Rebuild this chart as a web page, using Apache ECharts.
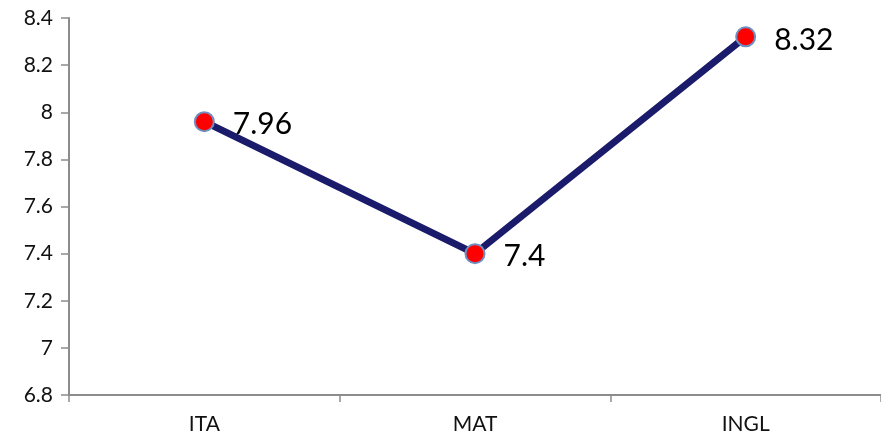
<!DOCTYPE html>
<html><head><meta charset="utf-8">
<script src="https://cdn.jsdelivr.net/npm/echarts@6/dist/echarts.min.js"></script>
<style>html,body{margin:0;padding:0;background:#fff}#c{width:881px;height:444px}</style>
</head><body><div id="c"></div>
<script>
var categories = ['ITA', 'MAT', 'INGL'];
var values = [7.96, 7.4, 8.32];
var yMin = 6.8, yMax = 8.4, yStep = 0.2;

var chart = echarts.init(document.getElementById('c'), null, {renderer: 'canvas'});
chart.setOption({
  animation: false,
  backgroundColor: '#fff',
  grid: {left: 69, right: -5, top: 18, bottom: 49, containLabel: false},
  xAxis: {
    type: 'category', data: categories, boundaryGap: true,
    axisLine: {lineStyle: {color: '#8c8c8c', width: 2}},
    axisTick: {show: true, length: 7, lineStyle: {color: '#8c8c8c', width: 1.5}},
    axisLabel: {color: '#111', fontFamily: 'Lato', fontSize: 21, margin: 19}
  },
  yAxis: {
    type: 'value', min: yMin, max: yMax, interval: yStep,
    axisLine: {show: true, lineStyle: {color: '#8c8c8c', width: 2}},
    axisTick: {show: true, length: 8, lineStyle: {color: '#8c8c8c', width: 1.5}},
    splitLine: {show: false},
    axisLabel: {color: '#111', fontFamily: 'Lato', fontSize: 21, margin: 16,
      formatter: function (v) { return String(parseFloat(v.toFixed(1))); }}
  },
  series: [{
    type: 'line', data: values,
    lineStyle: {color: '#1b1b6b', width: 7},
    symbol: 'circle', symbolSize: 19,
    itemStyle: {color: '#ff0000', borderColor: '#6f8fc0', borderWidth: 2},
    label: {show: true, position: 'right', distance: 18, color: '#000',
      fontFamily: 'Lato', fontSize: 30, offset: [0, 3],
      formatter: function (p) { return String(p.value); }},
    z: 3
  }]
});
</script></body></html>
